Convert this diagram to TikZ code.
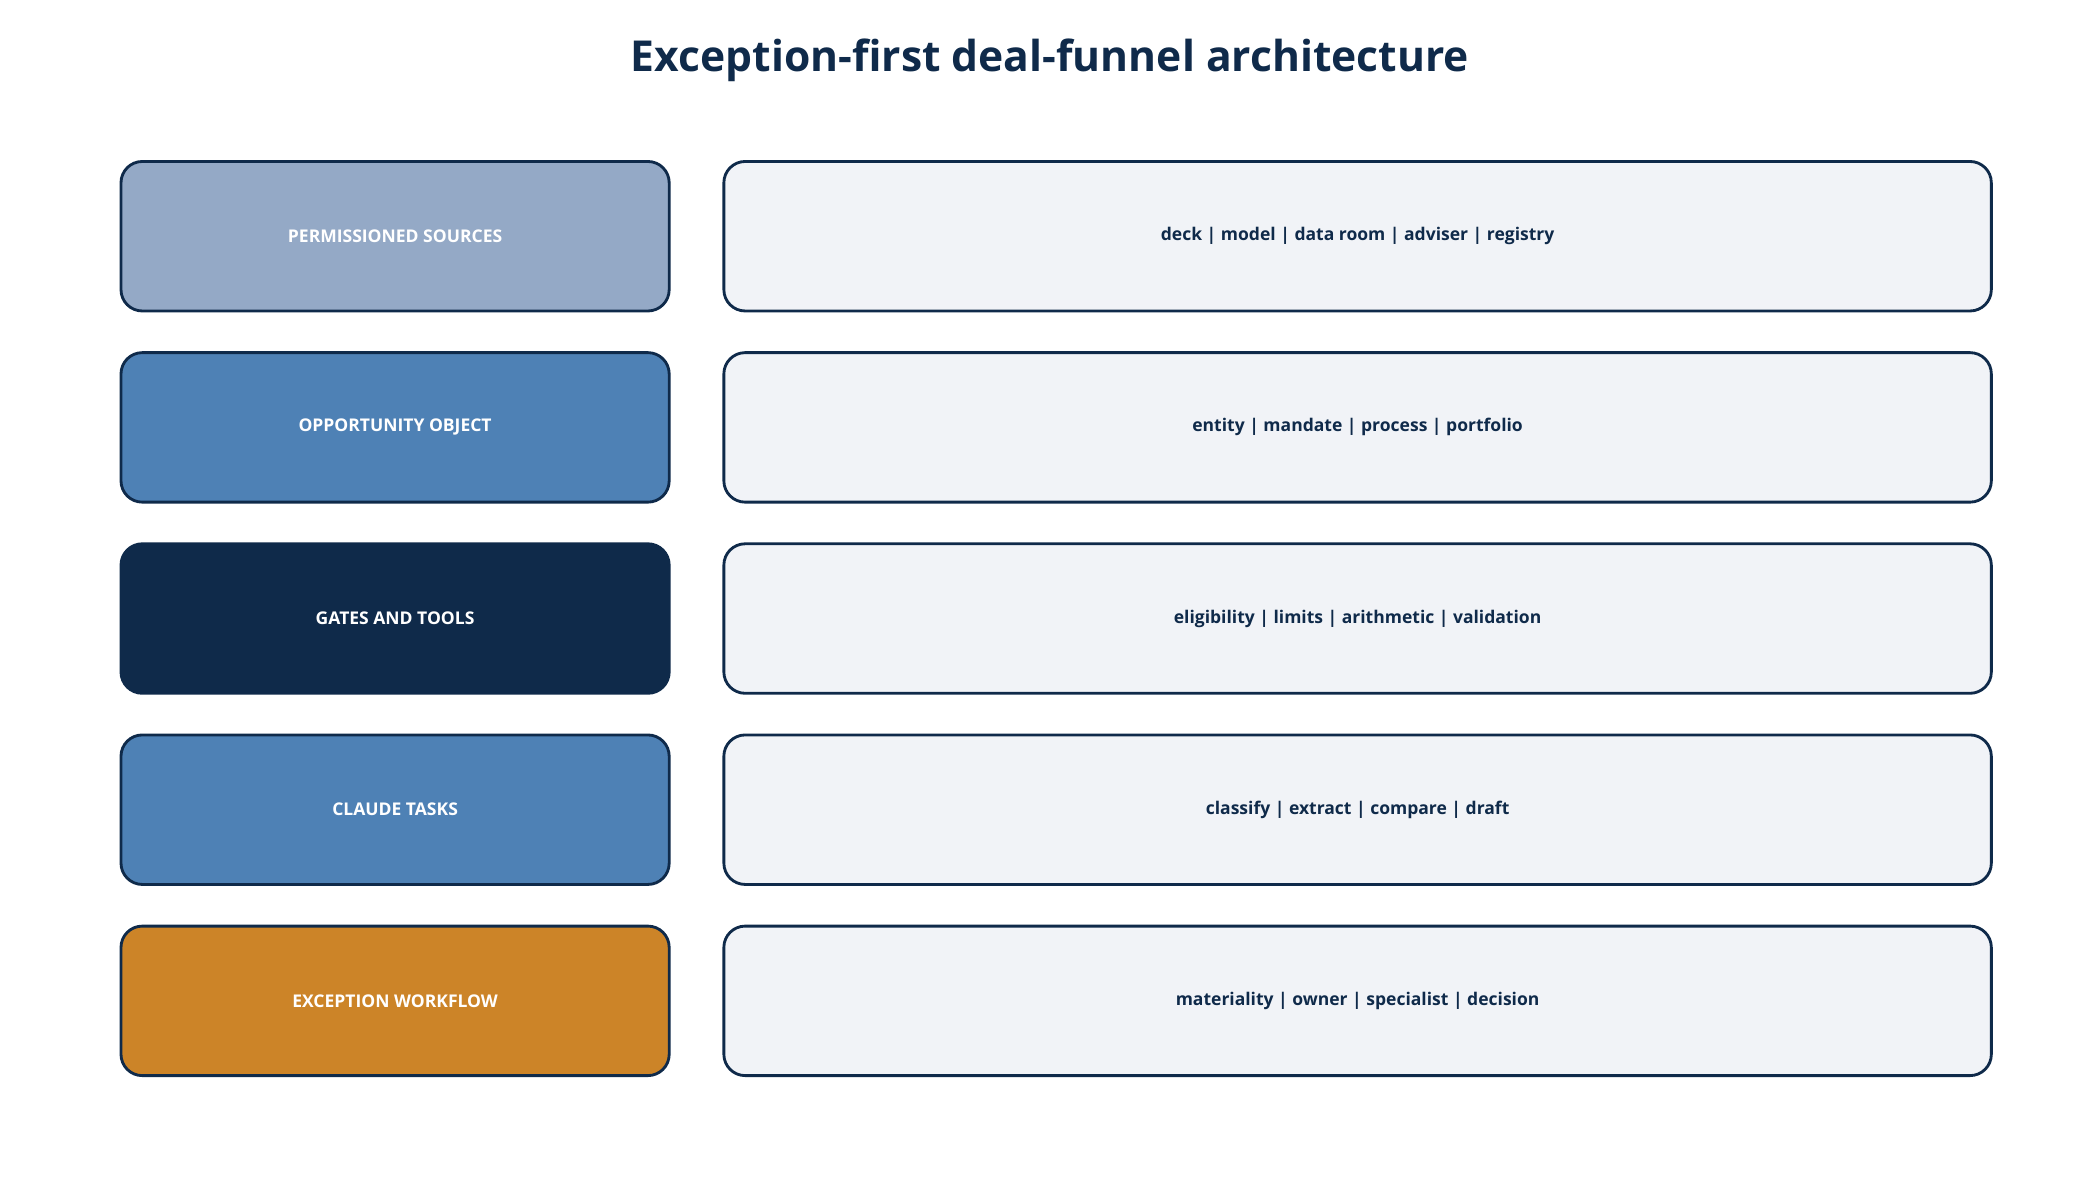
\documentclass[tikz,border=0pt]{standalone}
\usepackage{fontspec}
\setmainfont{Open Sans}
\usetikzlibrary{positioning}
\definecolor{navy}{HTML}{0F2A4A}
\definecolor{steel}{HTML}{94A9C6}
\definecolor{midblue}{HTML}{4E81B5}
\definecolor{amber}{HTML}{CC8428}
\definecolor{paper}{HTML}{F1F3F7}
\begin{document}
\begin{tikzpicture}[%
    x=0.01cm, y=-0.01cm,
    block/.style={%
      rectangle,             % plain box
      rounded corners=4.5pt, % soft corners
      draw=navy,             % dark outline
      line width=0.6pt,
      minimum width=4.07cm,
      minimum height=1.11cm,
      font=\fontsize{3.7}{4.5}\selectfont\bfseries
    },
    stage/.style={%
      block,
      text=white
    },
    detail/.style={%
      block,
      fill=paper,
      text=navy,
      minimum width=9.41cm
    }
]
    \useasboundingbox (0,0) rectangle (1560,877);

    % title
    \node at (780,45) [text=navy,font=\fontsize{9}{11}\selectfont\bfseries] (title)
      {Exception-first deal-funnel architecture};

    % stages
    \node at (293.5,175.5) [stage,fill=steel]   (sources)     {PERMISSIONED SOURCES};
    \node at (293.5,317.5) [stage,fill=midblue] (opportunity) {OPPORTUNITY OBJECT};
    \node at (293.5,459.5) [stage,fill=navy]    (gates)       {GATES AND TOOLS};
    \node at (293.5,601.5) [stage,fill=midblue] (tasks)       {CLAUDE TASKS};
    \node at (293.5,743.5) [stage,fill=amber]   (exceptions)  {EXCEPTION WORKFLOW};

    % details
    \node at (1008.5,175.5) [detail] (sources detail)     {deck | model | data room | adviser | registry};
    \node at (1008.5,317.5) [detail] (opportunity detail) {entity | mandate | process | portfolio};
    \node at (1008.5,459.5) [detail] (gates detail)       {eligibility | limits | arithmetic | validation};
    \node at (1008.5,601.5) [detail] (tasks detail)       {classify | extract | compare | draft};
    \node at (1008.5,743.5) [detail] (exceptions detail)  {materiality | owner | specialist | decision};

\end{tikzpicture}
\end{document}
